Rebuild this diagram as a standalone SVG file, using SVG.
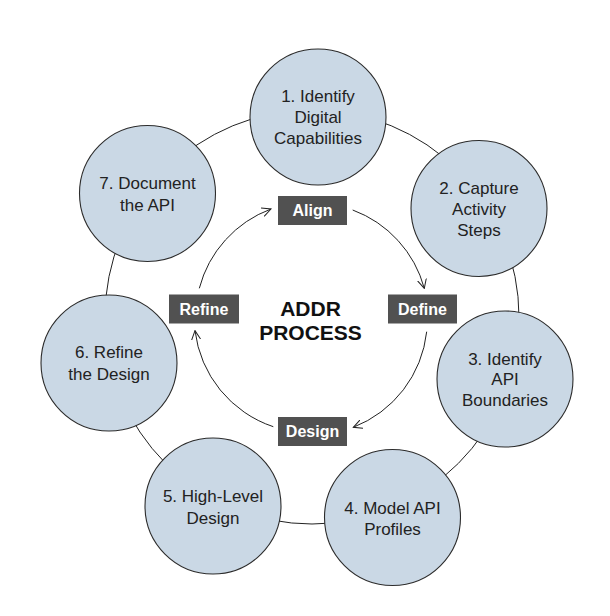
<svg xmlns="http://www.w3.org/2000/svg" width="610" height="616" viewBox="0 0 610 616">
<style>
.node circle{fill:#cad8e5;stroke:#2b2b2b;stroke-width:1.1}
.node text{font-family:"Liberation Sans",Arial,sans-serif;font-size:17px;fill:#222;text-anchor:middle}
.phase rect{fill:#515151}
.phase text{font-family:"Liberation Sans",Arial,sans-serif;font-size:16px;font-weight:bold;fill:#fff;text-anchor:middle}
.ring{fill:none;stroke:#222;stroke-width:1}
.flow{fill:none;stroke:#222;stroke-width:1;marker-end:url(#arr)}
.title{font-family:"Liberation Sans",Arial,sans-serif;font-size:21px;font-weight:bold;fill:#111;text-anchor:middle}
</style>
<defs>
<marker id="arr" viewBox="0 0 10 10" refX="9" refY="5" markerWidth="10" markerHeight="10" markerUnits="userSpaceOnUse" orient="auto">
<path d="M0,0.5 L9,5 L0,9.5" fill="none" stroke="#222" stroke-width="1"/>
</marker>
</defs>
<rect width="610" height="616" fill="#fff"/>
<g id="connectors">
<circle class="ring" cx="312" cy="317" r="207"/>
<path class="flow" d="M352.7,210 A116,116 0 0 1 424.3,288.3"/>
<path class="flow" d="M426.7,331.7 A116,116 0 0 1 353.3,427.3"/>
<path class="flow" d="M273.3,426.7 A116,116 0 0 1 195,330.7"/>
<path class="flow" d="M199.3,288.3 A116,116 0 0 1 271,209"/>
</g>
<g id="node1" class="node"><circle cx="318" cy="117" r="68"/><text x="318" y="102">1. Identify</text><text x="318" y="123">Digital</text><text x="318" y="144">Capabilities</text></g>
<g id="node2" class="node"><circle cx="479" cy="208.5" r="68"/><text x="479" y="194">2. Capture</text><text x="479" y="215">Activity</text><text x="479" y="236">Steps</text></g>
<g id="node3" class="node"><circle cx="505" cy="379" r="68"/><text x="505" y="364.5">3. Identify</text><text x="505" y="385">API</text><text x="505" y="405.5">Boundaries</text></g>
<g id="node4" class="node"><circle cx="392.5" cy="517.5" r="68"/><text x="392.5" y="514">4. Model API</text><text x="392.5" y="534.5">Profiles</text></g>
<g id="node5" class="node"><circle cx="213" cy="506" r="68"/><text x="213" y="502">5. High-Level</text><text x="213" y="523.5">Design</text></g>
<g id="node6" class="node"><circle cx="109" cy="363" r="68"/><text x="109" y="358">6. Refine</text><text x="109" y="379.5">the Design</text></g>
<g id="node7" class="node"><circle cx="147.5" cy="193.5" r="68"/><text x="147.5" y="189">7. Document</text><text x="147.5" y="210.5">the API</text></g>
<g id="align" class="phase"><rect x="278" y="196" width="69" height="29"/><text x="312.5" y="216">Align</text></g>
<g id="define" class="phase"><rect x="388" y="294.5" width="69" height="29"/><text x="422.5" y="314.5">Define</text></g>
<g id="design" class="phase"><rect x="278" y="417" width="69" height="29"/><text x="312.5" y="437">Design</text></g>
<g id="refine" class="phase"><rect x="169" y="294.5" width="70" height="29"/><text x="204" y="314.5">Refine</text></g>
<g id="title"><text class="title" x="310.5" y="316">ADDR</text><text class="title" x="310.5" y="340">PROCESS</text></g>
</svg>
